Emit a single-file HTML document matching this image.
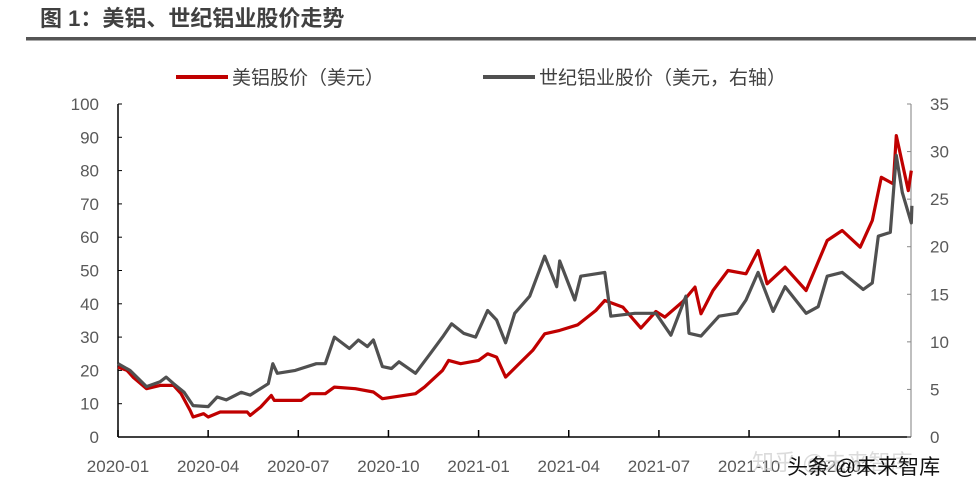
<!DOCTYPE html>
<html><head><meta charset="utf-8">
<style>
body{margin:0;background:#fff;width:979px;height:497px;overflow:hidden;font-family:"Liberation Sans","Noto Sans CJK SC",sans-serif;}
</style></head>
<body>
<svg id="chart" width="979" height="497" xmlns="http://www.w3.org/2000/svg" font-family="Liberation Sans, Noto Sans CJK SC, sans-serif">
<text x="40" y="26" font-size="22" font-weight="bold" fill="#404040">图 1：美铝、世纪铝业股价走势</text>
<rect x="26" y="37" width="950" height="3.5" fill="#555"/>
<g>
<line x1="176" y1="77" x2="228" y2="77" stroke="#C00000" stroke-width="4"/>
<text x="232" y="84" font-size="19" fill="#404040">美铝股价（美元）</text>
<line x1="483" y1="77" x2="535" y2="77" stroke="#505050" stroke-width="4"/>
<text x="539" y="84" font-size="19" fill="#404040">世纪铝业股价（美元，右轴）</text>
</g>
<g id="axes"></g>
<g id="series"></g>
<text x="752" y="470" font-size="22" fill="#ccc" opacity="0.7">知乎 @未来智库</text>
<text x="787" y="474" font-size="21" fill="#111">头条 @未来智库</text>
</svg>
<script>
const xTickLabels=["2020-01","2020-04","2020-07","2020-10","2021-01","2021-04","2021-07","2021-10","2022-01"];
const leftTicks=[0,10,20,30,40,50,60,70,80,90,100];
const rightTicks=[0,5,10,15,20,25,30,35];
const alcoaMonths=[0,0.3,0.5,0.95,1.4,1.85,2.1,2.4,2.5,2.85,3.0,3.4,4.3,4.4,4.75,5.1,5.2,6.1,6.4,6.9,7.2,7.9,8.5,8.8,9.9,10.2,10.8,11.0,11.4,12.0,12.3,12.6,12.9,13.3,13.8,14.2,14.7,15.3,15.9,16.2,16.8,17.4,17.9,18.2,18.8,19.2,19.4,19.8,20.3,20.9,21.3,21.6,22.2,22.9,23.6,24.1,24.7,25.1,25.4,25.8,25.9,26.3,26.4];
const alcoaValues=[21,20,18,14.5,15.5,15.5,13,8,6,7,6,7.5,7.5,6.5,9,12.5,11,11,13,13,15,14.5,13.5,11.5,13,15,20,23,22,23,25,24,18,21.6,26,31,32,33.7,38,41,39,32.7,37.7,36,40.7,45,37,44,50,49,56,46,51,44,59,62,57,65,78,76,90.5,74,80];
const centuryMonths=[0,0.4,0.95,1.4,1.6,1.85,2.2,2.5,3.0,3.3,3.6,4.1,4.4,5.0,5.15,5.3,5.9,6.6,6.9,7.2,7.7,8.0,8.3,8.5,8.8,9.1,9.35,9.9,10.4,10.8,11.1,11.5,11.9,12.3,12.6,12.9,13.2,13.7,14.2,14.6,14.7,15.2,15.4,16.2,16.4,17.2,17.9,18.4,18.9,19.0,19.4,20.0,20.6,20.9,21.3,21.8,22.2,22.9,23.3,23.6,24.1,24.8,25.1,25.3,25.7,25.9,26.1,26.4,26.42];
const centuryValues=[7.7,7,5.3,5.8,6.3,5.6,4.7,3.3,3.2,4.2,3.9,4.7,4.4,5.6,7.7,6.7,7,7.7,7.7,10.5,9.3,10.2,9.5,10.2,7.4,7.2,7.9,6.7,8.8,10.5,11.9,10.9,10.5,13.3,12.3,9.9,13,14.8,19,15.8,18.5,14.4,16.9,17.3,12.7,13,13,10.7,14.8,10.9,10.6,12.7,13,14.4,17.3,13.2,15.8,13,13.7,16.9,17.3,15.5,16.2,21.1,21.5,29.6,25.7,22.5,24.3];
const x0=118,monthW=30.05,yTop=104,yBot=437;
const X=m=>x0+m*monthW;
const YL=v=>yBot-(v/100)*(yBot-yTop);
const YR=v=>yBot-(v/35)*(yBot-yTop);
const NS="http://www.w3.org/2000/svg";
const axes=document.getElementById('axes'),series=document.getElementById('series');
function mk(tag,attrs,parent){const e=document.createElementNS(NS,tag);for(const k in attrs)e.setAttribute(k,attrs[k]);parent.appendChild(e);return e;}
let l=mk('line',{x1:x0,y1:yTop,x2:x0,y2:yBot,stroke:'#000','stroke-width':1.5},axes);


l=mk('line',{x1:911,y1:yTop,x2:911,y2:yBot,stroke:'#aaa','stroke-width':1.5},axes);


l=mk('line',{x1:x0,y1:yBot,x2:911,y2:yBot,stroke:'#000','stroke-width':1.5},axes);


leftTicks.forEach(v=>{
 const t=mk('line',{x1:x0,y1:YL(v),x2:x0+4,y2:YL(v),stroke:'#000'},axes);
 
 
 const tx=mk('text',{x:99,y:YL(v)+6,'text-anchor':'end','font-size':17,fill:'#595959'},axes);tx.textContent=v;
 
 
});
rightTicks.forEach(v=>{
 const t=mk('line',{x1:907,y1:YR(v),x2:911,y2:YR(v),stroke:'#888'},axes);
 
 
 const tx=mk('text',{x:930,y:YR(v)+6,'font-size':17,fill:'#595959'},axes);tx.textContent=v;
 
 
});
xTickLabels.forEach((s,i)=>{
 const xx=X(i*3);
 const t=mk('line',{x1:xx,y1:yBot,x2:xx,y2:yBot-7,stroke:'#000','stroke-width':1.5},axes);
 
 
 const tx=mk('text',{x:xx,y:472,'text-anchor':'middle','font-size':17,fill:'#595959'},axes);tx.textContent=s;
 
 
});
function path(ms,vs,Y){return ms.map((m,i)=>(i?'L':'M')+X(m).toFixed(1)+','+Y(vs[i]).toFixed(1)).join('');}
let p=mk('path',{d:path(alcoaMonths,alcoaValues,YL),fill:'none',stroke:'#C00000','stroke-width':3.2,'stroke-linejoin':'round'},series);


p=mk('path',{d:path(centuryMonths,centuryValues,YR),fill:'none',stroke:'#505050','stroke-width':3.2,'stroke-linejoin':'round'},series);


</script>
</body></html>
